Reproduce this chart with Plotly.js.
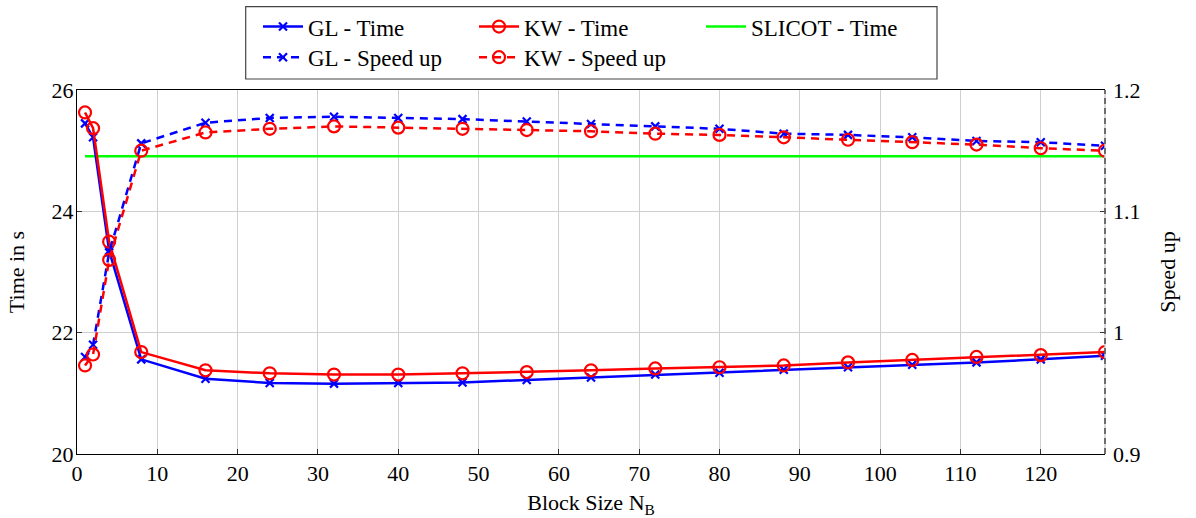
<!DOCTYPE html>
<html>
<head>
<meta charset="utf-8">
<script src="https://cdn.plot.ly/plotly-3.0.1.min.js"></script>
<style>
html, body { margin: 0; padding: 0; background: #fff; }
#chart { width: 1196px; height: 518px; }
</style>
</head>
<body>
<div id="chart"></div>
<script>
// Block sizes (x categories)
const blockSize = [1, 2, 4, 8, 16, 24, 32, 40, 48, 56, 64, 72, 80, 88, 96, 104, 112, 120, 128];
// Time in seconds (left axis)
const glTime = [25.45, 25.22, 23.35, 21.56, 21.24, 21.17, 21.16, 21.17, 21.18, 21.22, 21.26, 21.31, 21.34, 21.39, 21.43, 21.47, 21.51, 21.56, 21.62];
const kwTime = [25.63, 25.37, 23.50, 21.68, 21.38, 21.33, 21.31, 21.31, 21.33, 21.35, 21.38, 21.41, 21.43, 21.46, 21.51, 21.55, 21.60, 21.63, 21.68];
const slicotTime = [24.91, 24.91, 24.91, 24.91, 24.91, 24.91, 24.91, 24.91, 24.91, 24.91, 24.91, 24.91, 24.91, 24.91, 24.91, 24.91, 24.91, 24.91, 24.91];
// Speed up (right axis)
const glSpeedup = [0.980, 0.990, 1.066, 1.156, 1.173, 1.177, 1.178, 1.177, 1.176, 1.174, 1.172, 1.170, 1.168, 1.164, 1.163, 1.161, 1.158, 1.157, 1.154];
const kwSpeedup = [0.973, 0.982, 1.060, 1.150, 1.165, 1.168, 1.170, 1.169, 1.168, 1.167, 1.166, 1.164, 1.163, 1.161, 1.159, 1.157, 1.155, 1.152, 1.150];

const leftTicks = [20, 22, 24, 26];
const rightTicks = [0.9, 1, 1.1, 1.2];
const rightTickText = ['0.9', '1', '1.1', '1.2'];

const FONT = 'Liberation Serif';
const BLUE = '#0000ff', RED = '#ff0000', GREEN = '#00ff00';
const DASH = '8px,6px';

const traces = [
  { x: blockSize, y: slicotTime, name: 'SLICOT - Time', mode: 'lines', yaxis: 'y',
    line: { color: GREEN, width: 2.5 }, legend: 'legend3' },
  { x: blockSize, y: glTime, name: 'GL - Time', mode: 'lines+markers', yaxis: 'y',
    line: { color: BLUE, width: 2.5 },
    marker: { symbol: 'x-thin', size: 8, line: { color: BLUE, width: 2.2 } }, legend: 'legend' },
  { x: blockSize, y: kwTime, name: 'KW - Time', mode: 'lines+markers', yaxis: 'y',
    line: { color: RED, width: 2.5 },
    marker: { symbol: 'circle-open', size: 12, color: RED, line: { color: RED, width: 2.2 } }, legend: 'legend2' },
  { x: blockSize, y: glSpeedup, name: 'GL - Speed up', mode: 'lines+markers', yaxis: 'y2',
    line: { color: BLUE, width: 2.5, dash: DASH },
    marker: { symbol: 'x-thin', size: 8, line: { color: BLUE, width: 2.2 } }, legend: 'legend4' },
  { x: blockSize, y: kwSpeedup, name: 'KW - Speed up', mode: 'lines+markers', yaxis: 'y2',
    line: { color: RED, width: 2.5, dash: DASH },
    marker: { symbol: 'circle-open', size: 12, color: RED, line: { color: RED, width: 2.2 } }, legend: 'legend5' }
];

const L = 77, R = 1105, T = 90, B = 453.6;
const px = v => (v - L) / (R - L);
const py = v => (B - v) / (B - T);

function leg(xPix, yPix) {
  return {
    x: px(xPix), y: py(yPix), xref: 'paper', yref: 'paper',
    xanchor: 'left', yanchor: 'middle',
    bgcolor: 'rgba(0,0,0,0)', borderwidth: 0,
    itemwidth: 40, font: { family: FONT, size: 23, color: '#000' },
    orientation: 'v', tracegroupgap: 0
  };
}

const layout = {
  width: 1196, height: 518,
  paper_bgcolor: '#fff', plot_bgcolor: '#fff',
  margin: { l: L, r: 1196 - R, t: T, b: 518 - B, autoexpand: false },
  font: { family: FONT, size: 22, color: '#000' },
  showlegend: true,
  legend: leg(258, 26.7),
  legend2: leg(474, 26.7),
  legend3: leg(701, 26.7),
  legend4: leg(258, 57.3),
  legend5: leg(474, 57.3),
  xaxis: {
    range: [0, 128], tick0: 0, dtick: 10, tickmode: 'linear',
    showgrid: true, gridcolor: '#cfcfcf', gridwidth: 1,
    zeroline: false, showline: true, linecolor: '#000', linewidth: 1, mirror: true,
    ticks: 'inside', ticklen: 5, tickcolor: '#333',
    tickfont: { family: FONT, size: 22 },
    title: { text: 'Block Size N<sub>B</sub>', font: { family: FONT, size: 22 }, standoff: 14 }
  },
  yaxis: {
    range: [20, 26], tickmode: 'array', tickvals: leftTicks, ticktext: leftTicks.map(String),
    showgrid: true, gridcolor: '#cfcfcf', gridwidth: 1,
    zeroline: false, showline: true, linecolor: '#000', linewidth: 1, mirror: false,
    ticks: 'inside', ticklen: 5, tickcolor: '#333', ticklabelstandoff: -2,
    tickfont: { family: FONT, size: 22 },
    title: { text: 'Time in s', font: { family: FONT, size: 22 }, standoff: 20 }
  },
  yaxis2: {
    range: [0.9, 1.2], overlaying: 'y', side: 'right',
    tickmode: 'array', tickvals: rightTicks, ticktext: rightTickText,
    showgrid: false, zeroline: false, showline: false,
    ticks: 'inside', ticklen: 5, tickcolor: '#333', ticklabelstandoff: 7,
    tickfont: { family: FONT, size: 22 },
    title: { text: 'Speed up', font: { family: FONT, size: 22 }, standoff: 20 }
  },
  shapes: [
    { type: 'line', xref: 'paper', yref: 'paper', x0: 1, x1: 1, y0: 0, y1: 1,
      line: { color: '#cfcfcf', width: 1.5 } },
    { type: 'line', xref: 'paper', yref: 'paper', x0: 1, x1: 1, y0: 0, y1: 1,
      line: { color: '#000', width: 1, dash: '6px,4px' } },
    { type: 'rect', xref: 'paper', yref: 'paper',
      x0: px(245.7), x1: px(937), y0: py(79), y1: py(6.7),
      line: { color: '#444', width: 1.2 }, fillcolor: 'rgba(0,0,0,0)' }
  ]
};

Plotly.newPlot('chart', traces, layout, { displayModeBar: false, staticPlot: true });
</script>
</body>
</html>
